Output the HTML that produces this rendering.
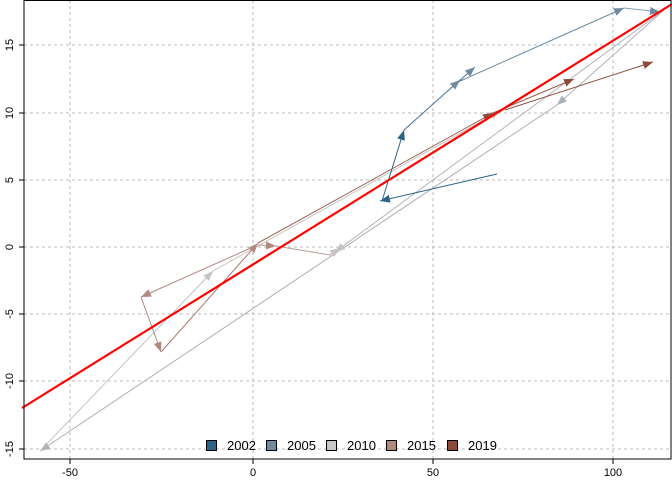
<!DOCTYPE html>
<html><head><meta charset="utf-8"><style>body{margin:0;background:#fff}svg{display:block}text{font-family:"Liberation Sans",sans-serif}</style></head><body>
<svg width="672" height="480" viewBox="0 0 672 480" xmlns="http://www.w3.org/2000/svg">
<defs>
<marker id="m1" viewBox="0 0 10 10" refX="10" refY="5" markerWidth="10" markerHeight="10" markerUnits="userSpaceOnUse" orient="auto"><path d="M0,1 L10,5 L0,9 z" fill="#2c6385"/></marker>
<marker id="m2" viewBox="0 0 10 10" refX="10" refY="5" markerWidth="10" markerHeight="10" markerUnits="userSpaceOnUse" orient="auto"><path d="M0,1 L10,5 L0,9 z" fill="#6c8aa0"/></marker>
<marker id="m3" viewBox="0 0 10 10" refX="10" refY="5" markerWidth="10" markerHeight="10" markerUnits="userSpaceOnUse" orient="auto"><path d="M0,1 L10,5 L0,9 z" fill="#a9b1b8"/></marker>
<marker id="m3b" viewBox="0 0 10 10" refX="10" refY="5" markerWidth="10" markerHeight="10" markerUnits="userSpaceOnUse" orient="auto"><path d="M0,1 L10,5 L0,9 z" fill="#c4c4c4"/></marker>
<marker id="m4" viewBox="0 0 10 10" refX="10" refY="5" markerWidth="10" markerHeight="10" markerUnits="userSpaceOnUse" orient="auto"><path d="M0,1 L10,5 L0,9 z" fill="#b08a80"/></marker>
<marker id="m5" viewBox="0 0 10 10" refX="10" refY="5" markerWidth="10" markerHeight="10" markerUnits="userSpaceOnUse" orient="auto"><path d="M0,1 L10,5 L0,9 z" fill="#8b4a3c"/></marker>
</defs>
<g stroke="#bbb" stroke-dasharray="3,3" stroke-width="1">
<line x1="70" y1="0" x2="70" y2="459"/><line x1="253" y1="0" x2="253" y2="459"/><line x1="433" y1="0" x2="433" y2="459"/><line x1="613" y1="0" x2="613" y2="459"/>
<line x1="24" y1="45" x2="671" y2="45"/><line x1="24" y1="113" x2="671" y2="113"/><line x1="24" y1="180" x2="671" y2="180"/><line x1="24" y1="247" x2="671" y2="247"/><line x1="24" y1="314" x2="671" y2="314"/><line x1="24" y1="381" x2="671" y2="381"/><line x1="24" y1="449" x2="671" y2="449"/>
</g>
<g fill="none" stroke-width="1">
<!-- 2010 -->
<line x1="664" y1="10" x2="557" y2="105" stroke="#a9b1b8" marker-end="url(#m3)"/>
<line x1="557" y1="105" x2="40" y2="451" stroke="#a9b1b8" marker-end="url(#m3)"/>
<line x1="664" y1="10" x2="335" y2="252" stroke="#b5b5b5" marker-end="url(#m3b)"/>
<line x1="40" y1="451" x2="213" y2="271" stroke="#c4c4c4" marker-end="url(#m3b)"/>
<line x1="213" y1="271" x2="500" y2="111" stroke="#c4c4c4" marker-end="url(#m3b)"/>
<!-- 2015 -->
<line x1="253" y1="247" x2="141" y2="297" stroke="#b08a80" marker-end="url(#m4)"/>
<line x1="141" y1="297" x2="161" y2="352" stroke="#b08a80" marker-end="url(#m4)"/>
<line x1="161" y1="352" x2="258" y2="243" stroke="#a87a6e" marker-end="url(#m4)"/>
<line x1="258" y1="245" x2="276" y2="246" stroke="#b8a09a" marker-end="url(#m4)"/>
<polyline points="276,246 330,255 340,248" stroke="#b8a09a" marker-end="url(#m3b)"/>
<line x1="258" y1="243" x2="493" y2="113" stroke="#a06a5c" marker-end="url(#m5)"/>
<!-- 2019 -->
<line x1="493" y1="113" x2="574" y2="79" stroke="#9b5a4c" marker-end="url(#m5)"/>
<line x1="505" y1="110" x2="653" y2="62" stroke="#8b4a3c" marker-end="url(#m5)"/>
<!-- 2002 / 2005 -->
<line x1="497" y1="174" x2="380" y2="201" stroke="#2c6385" marker-end="url(#m1)"/>
<line x1="382" y1="201" x2="404" y2="130" stroke="#2c6385" marker-end="url(#m1)"/>
<line x1="404" y1="130" x2="460" y2="80" stroke="#4a7290" marker-end="url(#m2)"/>
<line x1="458" y1="82" x2="475" y2="67" stroke="#4a7290" marker-end="url(#m2)"/>
<line x1="458" y1="82" x2="624" y2="8" stroke="#6c8aa0" marker-end="url(#m2)"/>
<line x1="624" y1="8" x2="660" y2="12" stroke="#8aa0b0" marker-end="url(#m2)"/>
</g>
<line x1="22" y1="408" x2="672" y2="4" stroke="#ff0000" stroke-width="2.2"/>
<rect x="24" y="0.5" width="647" height="458.5" fill="none" stroke="#000" stroke-width="1"/>
<g stroke="#000"><line x1="70" y1="459" x2="70" y2="464"/><line x1="253" y1="459" x2="253" y2="464"/><line x1="433" y1="459" x2="433" y2="464"/><line x1="613" y1="459" x2="613" y2="464"/>
<line x1="19" y1="45" x2="24" y2="45"/><line x1="19" y1="113" x2="24" y2="113"/><line x1="19" y1="180" x2="24" y2="180"/><line x1="19" y1="247" x2="24" y2="247"/><line x1="19" y1="314" x2="24" y2="314"/><line x1="19" y1="381" x2="24" y2="381"/><line x1="19" y1="449" x2="24" y2="449"/></g>
<g font-size="11" text-anchor="middle" fill="#000">
<text x="70" y="476">-50</text><text x="253" y="476">0</text><text x="433" y="476">50</text><text x="613" y="476">100</text>
<text transform="translate(13,45) rotate(-90)">15</text><text transform="translate(13,113) rotate(-90)">10</text><text transform="translate(13,180) rotate(-90)">5</text><text transform="translate(13,247) rotate(-90)">0</text><text transform="translate(13,314) rotate(-90)">-5</text><text transform="translate(13,381) rotate(-90)">-10</text><text transform="translate(13,449) rotate(-90)">-15</text>
</g>
<g stroke="#000" stroke-width="1">
<rect x="206.5" y="440.5" width="10" height="10" fill="#2c6385"/>
<rect x="266.5" y="440.5" width="10" height="10" fill="#6c8aa0"/>
<rect x="326.5" y="440.5" width="10" height="10" fill="#c8c8c8"/>
<rect x="386.5" y="440.5" width="10" height="10" fill="#b08a80"/>
<rect x="447.5" y="440.5" width="10" height="10" fill="#8b4a3c"/>
</g>
<g font-size="13" fill="#000">
<text x="227" y="450">2002</text><text x="287" y="450">2005</text><text x="347" y="450">2010</text><text x="407" y="450">2015</text><text x="468" y="450">2019</text>
</g>
</svg>
</body></html>
